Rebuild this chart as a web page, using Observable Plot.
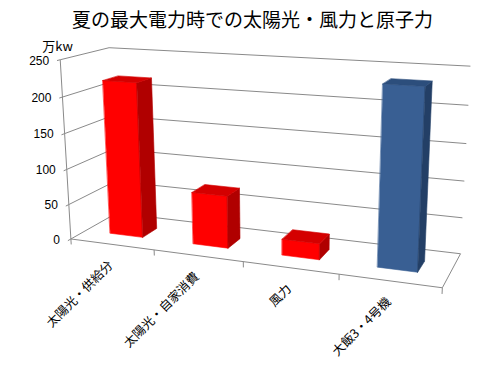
<!DOCTYPE html>
<html><head><meta charset="utf-8">
<script src="https://cdn.jsdelivr.net/npm/d3@7"></script>
<script src="https://cdn.jsdelivr.net/npm/@observablehq/plot@0.6"></script>
<style>
html,body{margin:0;padding:0;background:#fff;}
#title{height:34px;box-sizing:border-box;padding-top:8px;padding-left:17px;text-align:center;font:19px "Noto Sans CJK JP";line-height:22px;color:#000;white-space:nowrap;}
#chart svg{display:block;}
</style></head><body>
<div id="title">夏の最大電力時での太陽光・風力と原子力</div>
<div id="chart"></div>
<script>
// ---- data ----
const categories = ["太陽光・供給分", "太陽光・自家消費", "風力", "大飯3・4号機"];
const values = [218, 73, 22, 236];
const kinds = ["renewable", "renewable", "renewable", "nuclear"];
const yTicks = [0, 50, 100, 150, 200, 250];
const unitLabel = "万kw";
const yMax = 250;

// ---- layout / styles ----
const W = 488, TOP = 34, H = 368 - TOP;
const palette = {
  renewable: {front: "#ff0000", side: "#b00000", top: "#d40000"},
  nuclear: {front: "#395f93", side: "#233f66", top: "#2c4e7c"}
};
const gap = 0.3;
// calibration of the 3D frame: (x 0..1, y 0..1, z 0..1) -> page pixel
const frame = [
  [0, 0, 0, 70.7, 239], [0, .2, 0, 68.3, 203.3], [0, .4, 0, 66.3, 168.3],
  [0, .6, 0, 64.3, 133.3], [0, .8, 0, 62, 97.3], [0, 1, 0, 60, 59.5],
  [.25, 0, 0, 153, 249.6], [.5, 0, 0, 242, 261], [.75, 0, 0, 338, 273.5],
  [1, 0, 0, 443, 287], [1, 0, 1, 459, 252], [1, 1, 1, 470, 66],
  [1, .8, 1, 468, 104], [0, 1, 1, 108, 47]
];
// bar footprint calibration: (category x, front/back flag) -> page pixel
const footprint = [
  [0.3, 0, 109, 233.3], [0.7, 0, 141, 236], [0.7, 1, 157.7, 225.7],
  [1.3, 0, 193.3, 243.3], [1.7, 0, 228.3, 247.3], [1.7, 1, 240, 240.7],
  [2.3, 0, 281.7, 254.3], [2.7, 0, 318.3, 259.3], [2.7, 1, 330, 251.7],
  [3.3, 0, 377.3, 266.7], [3.7, 0, 417.3, 270.7], [3.7, 1, 423.3, 261.7]
];
const U0 = 244, V0 = 170, S = 200;

function fitCamera(pts) {
  const A = [], b = [];
  for (const [X, Y, Z, u0, v0] of pts) {
    const u = (u0 - U0) / S, v = (v0 - V0) / S;
    A.push([X, Y, Z, 1, 0, 0, 0, 0, -u * X, -u * Y, -u * Z]); b.push(u);
    A.push([0, 0, 0, 0, X, Y, Z, 1, -v * X, -v * Y, -v * Z]); b.push(v);
  }
  const n = 11;
  const M = Array.from({length: n}, () => new Array(n + 1).fill(0));
  for (let r = 0; r < A.length; r++)
    for (let i = 0; i < n; i++) {
      for (let j = 0; j < n; j++) M[i][j] += A[r][i] * A[r][j];
      M[i][n] += A[r][i] * b[r];
    }
  for (let c = 0; c < n; c++) {
    let p = c;
    for (let r = c + 1; r < n; r++) if (Math.abs(M[r][c]) > Math.abs(M[p][c])) p = r;
    [M[c], M[p]] = [M[p], M[c]];
    for (let r = 0; r < n; r++) if (r !== c) {
      const f = M[r][c] / M[c][c];
      for (let j = c; j <= n; j++) M[r][j] -= f * M[c][j];
    }
  }
  return M.map((row, i) => row[n] / row[i]);
}
function project(P, x, y, z) {
  const w = P[8] * x + P[9] * y + P[10] * z + 1;
  return [((P[0] * x + P[1] * y + P[2] * z + P[3]) / w) * S + U0,
          ((P[4] * x + P[5] * y + P[6] * z + P[7]) / w) * S + V0];
}
const nC = categories.length;
let best = null;
for (let a = 0.15; a <= 0.6; a += 0.01) for (let b = a + 0.08; b <= 0.98; b += 0.01) {
  const pts = frame.concat(footprint.map(([X, f, u, v]) => [X / nC, 0, f ? b : a, u, v]));
  const P = fitCamera(pts);
  let e = 0;
  for (const [x, y, z, u, v] of pts) { const [pu, pv] = project(P, x, y, z); e += (pu - u) ** 2 + (pv - v) ** 2; }
  if (!best || e < best.e) best = {e, P, a, b};
}
const P = best.P, z0 = best.a, z1 = best.b;
function proj(X, Y, Z) {
  const [u, v] = project(P, X / nC, Y / yMax, Z);
  return [u, v - TOP];
}
const seg = (a, b) => { const [x1, y1] = proj(...a), [x2, y2] = proj(...b); return {x1, y1, x2, y2}; };

// walls, floor, axes
const grid = [];
for (const t of yTicks) {
  grid.push(seg([0, t, 0], [0, t, 1]));
  grid.push(seg([0, t, 1], [nC, t, 1]));
}
grid.push(seg([0, 0, 0], [nC, 0, 0]));
grid.push(seg([nC, 0, 0], [nC, 0, 1]));
const axisLines = [seg([0, 0, 0], [0, yMax, 0])];
for (const t of yTicks) axisLines.push(seg([0, t, 0], [0, t, -0.06]));
for (let i = 0; i <= nC; i++) axisLines.push(seg([i, 0, 0], [i, -8, 0]));

// bars
const faces = [];
values.forEach((v, i) => {
  const x0 = i + gap, x1 = i + 1 - gap, k = kinds[i];
  const quad = (shade, pts) => pts.forEach((p) => {
    const [px, py] = proj(...p);
    faces.push({id: shade + i, color: palette[k][shade], px, py});
  });
  quad("front", [[x0, 0, z0], [x1, 0, z0], [x1, v, z0], [x0, v, z0]]);
  quad("side", [[x1, 0, z0], [x1, 0, z1], [x1, v, z1], [x1, v, z0]]);
  quad("top", [[x0, v, z0], [x1, v, z0], [x1, v, z1], [x0, v, z1]]);
});

const yLabels = yTicks.map((t) => { const [x, y] = proj(0, t, 0); return {x, y, t: String(t)}; });
const cLabels = categories.map((c, i) => { const [x, y] = proj(i + 0.5, 0, 0); return {x, y, c}; });
const [ux, uy] = proj(0, yMax, 0);

const chart = Plot.plot({
  width: W, height: H,
  margin: 0,
  x: {type: "linear", domain: [0, W], range: [0, W], axis: null},
  y: {type: "linear", domain: [0, H], range: [0, H], axis: null},
  color: {type: "identity"},
  style: {background: "#fff", overflow: "visible"},
  marks: [
    Plot.link(grid, {x1: "x1", y1: "y1", x2: "x2", y2: "y2", stroke: "#8a8a8a", strokeWidth: 1}),
    Plot.line(faces, {x: "px", y: "py", z: "id", fill: "color", stroke: "color", strokeWidth: 0.6, curve: "linear-closed"}),
    Plot.link(axisLines, {x1: "x1", y1: "y1", x2: "x2", y2: "y2", stroke: "#8a8a8a", strokeWidth: 1}),
    Plot.text(yLabels, {x: "x", y: "y", text: "t", textAnchor: "end", dx: -11, dy: 1, fontSize: 12, fontFamily: "Liberation Sans, Arial, sans-serif", fill: "#000"}),
    Plot.text([unitLabel], {x: () => ux, y: () => uy, text: (d) => d, textAnchor: "start", dx: -18, dy: -13, fontSize: 13, fontFamily: "Noto Sans CJK JP", fill: "#000"}),
    Plot.text(cLabels, {x: "x", y: "y", text: "c", textAnchor: "end", lineAnchor: "middle", rotate: -45, dx: -1, dy: 19, fontSize: 12.5, fontFamily: "Noto Sans CJK JP", fill: "#000"})
  ]
});
document.getElementById("chart").appendChild(chart);
</script>
</body></html>
